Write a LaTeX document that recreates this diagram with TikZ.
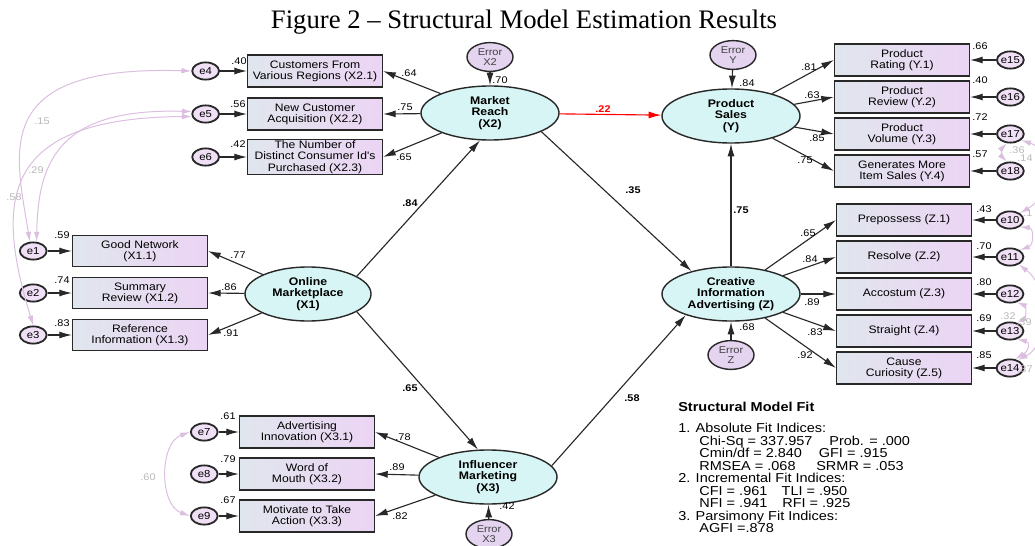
\documentclass[tikz,border=0pt]{standalone}
\usepackage{fontspec}
\setmainfont{Liberation Serif}
\newfontfamily\semfont{Liberation Sans}[FakeStretch=1.12]
\usetikzlibrary{arrows.meta,positioning,shapes.geometric}

\definecolor{boxleft}{RGB}{224,230,237}
\definecolor{boxright}{RGB}{236,212,244}
\definecolor{latfill}{RGB}{214,245,244}
\definecolor{errfill}{RGB}{228,212,240}
\definecolor{resfill}{RGB}{240,224,246}
\definecolor{covline}{RGB}{220,190,224}
\definecolor{covtext}{RGB}{185,185,185}
\definecolor{linegray}{RGB}{40,40,40}

\tikzset{
    %Define standard arrow tip
    >={Latex[length=9pt,width=5pt]},
    covtip/.tip={Latex[length=7pt,width=4pt]},
    %Define style for indicator boxes
    indicator/.style={
           rectangle,
           draw=linegray, line width=0.9pt,
           left color=boxleft, right color=boxright,
           minimum width=3.37cm,
           minimum height=0.8cm,
           inner sep=1pt,
           align=center,
           font=\semfont\fontsize{7.7}{8}\selectfont},
    % latent variables
    latent/.style={
           ellipse,
           draw=linegray, line width=1pt,
           fill=latfill,
           minimum width=3.45cm,
           minimum height=1.35cm,
           inner sep=0pt,
           align=center,
           font=\semfont\bfseries\fontsize{7.8}{8.2}\selectfont},
    % error terms of latent variables
    errlat/.style={
           ellipse,
           draw=linegray, line width=1pt,
           fill=errfill,
           minimum width=1.15cm,
           minimum height=0.72cm,
           inner sep=0pt,
           align=center,
           text=black!75,
           font=\semfont\fontsize{7}{7.4}\selectfont},
    % residuals of indicators
    resid/.style={
           ellipse,
           draw=linegray, line width=1.3pt,
           fill=resfill,
           minimum width=0.67cm,
           minimum height=0.43cm,
           inner sep=0pt,
           font=\semfont\fontsize{7.2}{7.2}\selectfont},
    % Define arrow style
    pil/.style={
           ->,
           draw=linegray,
           line width=0.8pt},
    cov/.style={
           covtip-covtip,
           draw=covline,
           line width=0.7pt},
    % number labels
    num/.style={inner sep=0pt, font=\semfont\fontsize{6.9}{7}\selectfont},
    numb/.style={inner sep=0pt, font=\semfont\bfseries\fontsize{6.9}{7}\selectfont},
    covnum/.style={num, text=covtext},
    fithead/.style={inner sep=0pt, font=\semfont\bfseries\fontsize{9.2}{10}\selectfont},
    fitlist/.style={inner sep=0pt, align=left, font=\semfont\fontsize{9.2}{8.9}\selectfont}
}

\begin{document}
\begin{tikzpicture}[x=0.025cm, y=-0.025cm]
        \fill[white] (0,0) rectangle (1035,546);
        \clip (0,0) rectangle (1035,546);

        % title
        \node[anchor=base, font=\fontsize{19}{22}\selectfont]
        (title) at (524,28)
        {Figure 2 – Structural Model Estimation Results};

        % latent variables
        \node[latent] (mr) at (490,113) {Market\\Reach\\(X2)};
        \node[latent, minimum width=3.15cm] (om) at (308,294) {Online\\Marketplace\\(X1)};
        \node[latent] (im) at (488,477) {Influencer\\Marketing\\(X3)};
        \node[latent] (ps) at (731,116) {Product\\Sales\\(Y)};
        \node[latent] (cia) at (731,294) {Creative\\Information\\Advertising (Z)};

        % error terms of the latent variables
        \node[errlat] (ex2) at (490,57) {Error\\X2};
        \node[errlat] (ey) at (733,55) {Error\\Y};
        \node[errlat] (ez) at (731,355) {Error\\Z};
        \node[errlat] (ex3) at (489,534) {Error\\X3};
        \draw[pil] (ex2) -- (mr);
        \draw[pil] (ey) -- (ps);
        \draw[pil] (ez) -- (cia);
        \draw[pil] (ex3) -- (im);

        % structural paths
        \draw[pil] (om.20) -- (mr.250);
        \draw[pil] (om.-20) -- (im.110);
        \draw[pil] (mr.-20) -- (cia.150);
        \draw[pil] (im.10) -- (cia.205);
        \draw[pil, draw=red] (mr) -- (ps);
        \draw[pil] (cia) -- (ps);

        % Market Reach indicators
        \foreach \nm/\yy/\txt/\en in {%
            x21/71/{Customers From\\Various Regions (X2.1)}/e4,
            x22/114/{New Customer\\Acquisition (X2.2)}/e5,
            x23/157/{The Number of\\Distinct Consumer Id's\\Purchased (X2.3)}/e6}
        {
            \node[indicator] (\nm) at (315,\yy) {\txt};
            \node[resid, left=0.675cm of \nm] (\en) {\en};
            \draw[pil] (\en) -- (\nm);
            \draw[pil] (mr) -- (\nm.east);
        }

        % Online Marketplace indicators
        \foreach \nm/\yy/\txt/\en in {%
            x11/251/{Good Network\\(X1.1)}/e1,
            x12/293/{Summary\\Review (X1.2)}/e2,
            x13/335/{Reference\\Information (X1.3)}/e3}
        {
            \node[indicator, minimum height=0.76cm] (\nm) at (140,\yy) {\txt};
            \node[resid, left=0.61cm of \nm] (\en) {\en};
            \draw[pil] (\en) -- (\nm);
            \draw[pil] (om) -- (\nm.east);
        }

        % Influencer Marketing indicators
        \foreach \nm/\yy/\txt/\en in {%
            x31/432/{Advertising\\Innovation (X3.1)}/e7,
            x32/474/{Word of\\Mouth (X3.2)}/e8,
            x33/516/{Motivate to Take\\Action (X3.3)}/e9}
        {
            \node[indicator] (\nm) at (307,\yy) {\txt};
            \node[resid, left=0.51cm of \nm] (\en) {\en};
            \draw[pil] (\en) -- (\nm);
            \draw[pil] (im) -- (\nm.east);
        }

        % Product Sales indicators
        \foreach \nm/\yy/\txt/\en in {%
            y1/60/{Product\\Rating (Y.1)}/e15,
            y2/97/{Product\\Review (Y.2)}/e16,
            y3/134/{Product\\Volume (Y.3)}/e17,
            y4/171/{Generates More\\Item Sales (Y.4)}/e18}
        {
            \node[indicator] (\nm) at (902,\yy) {\txt};
            \node[resid, right=0.65cm of \nm] (\en) {\en};
            \draw[pil] (\en) -- (\nm);
            \draw[pil] (ps) -- (\nm.west);
        }

        % Creative Information Advertising indicators
        \foreach \nm/\yy/\txt/\en in {%
            z1/220/{Prepossess (Z.1)}/e10,
            z2/257/{Resolve (Z.2)}/e11,
            z3/294/{Accostum (Z.3)}/e12,
            z4/331/{Straight (Z.4)}/e13,
            z5/368/{Cause\\Curiosity (Z.5)}/e14}
        {
            \node[indicator] (\nm) at (904,\yy) {\txt};
            \node[resid, right=0.59cm of \nm] (\en) {\en};
            \draw[pil] (\en) -- (\nm);
            \draw[pil] (cia) -- (\nm.west);
        }

        % covariances between residuals
        \draw[cov] (e4.west) .. controls (-10,65) and (15,150) .. (e1.110);
        \draw[cov] (e5.170) .. controls (60,108) and (38,160) .. (e1.70);
        \draw[cov] (e5.190) .. controls (0,118) and (-5,200) .. (e3.north);
        \draw[cov] (e7.west) to[out=200,in=160] (e9.west);
        \draw[cov] (e18.110) to[bend left=45] (e17.-110);
        \draw[cov] (e17.-30) .. controls (1052,150) and (1052,195) .. (e10.35);
        \draw[cov] (e10.-35) .. controls (1034,228) and (1034,245) .. (e11.35);
        \draw[cov] (e11.-40) .. controls (1052,290) and (1048,345) .. (e14.45);
        \draw[cov] (e12.-50) .. controls (1026,306) and (1026,318) .. (e13.50);
        \draw[cov] (e13.-50) .. controls (1030,342) and (1030,350) .. (e14.60);

        % covariance values
        \foreach \val/\xx/\yy [count=\i] in {.15/42/121, .29/36/170, .58/14/197, .60/148/477,
            .36/1017/150, .14/1025/158, .1/1028/213, .32/1008/316, .39/1024/322, .37/1025/369}
            \node[covnum] (cv\i) at (\xx,\yy) {\val};

        % squared multiple correlations
        \foreach \val/\xx/\yy [count=\i] in {.40/239/61, .56/238/104, .42/238/144,
            .59/62/235, .74/62/280, .83/62/323,
            .61/228/416, .79/228/459, .67/228/500,
            .66/980/46, .40/980/80, .72/980/117, .57/980/154,
            .43/984/209, .70/984/246, .80/984/282, .69/984/318, .85/984/355,
            .70/500/80, .84/747/83, .68/747/327, .42/507/506}
            \node[num] (rsq\i) at (\xx,\yy) {\val};

        % factor loadings
        \foreach \val/\xx/\yy [count=\i] in {.64/409/73, .75/405/107, .65/404/157,
            .77/238/255, .86/229/287, .91/231/333,
            .78/403/437, .89/397/467, .82/400/516,
            .81/809/67, .63/812/95, .85/817/138, .75/805/160,
            .65/808/233, .84/810/259, .89/812/302, .83/815/332, .92/805/355}
            \node[num] (ld\i) at (\xx,\yy) {\val};

        % structural coefficients
        \node[numb] (b1) at (410,203) {.84};
        \node[numb] (b2) at (410,388) {.65};
        \node[numb] (b3) at (633,190) {.35};
        \node[numb] (b4) at (632,398) {.58};
        \node[numb] (b5) at (741,210) {.75};
        \node[numb, text=red] (b6) at (603,109) {.22};

        % model fit
        \node[fithead, anchor=west] (fithead) at (678,407) {Structural Model Fit};
        \node[fitlist, anchor=north west] (fitlist) at (678,423)
        {1. Absolute Fit Indices:\\
         \hspace*{15pt}Chi-Sq = 337.957\hspace{1.3em}Prob. = .000\\
         \hspace*{15pt}Cmin/df = 2.840\hspace{1.3em}GFI = .915\\
         \hspace*{15pt}RMSEA = .068\hspace{1.6em}SRMR = .053\\
         2. Incremental Fit Indices:\\
         \hspace*{15pt}CFI = .961\hspace{1.1em}TLI = .950\\
         \hspace*{15pt}NFI = .941\hspace{1.15em}RFI = .925\\
         3. Parsimony Fit Indices:\\
         \hspace*{15pt}AGFI =.878};

\end{tikzpicture}
\end{document}
